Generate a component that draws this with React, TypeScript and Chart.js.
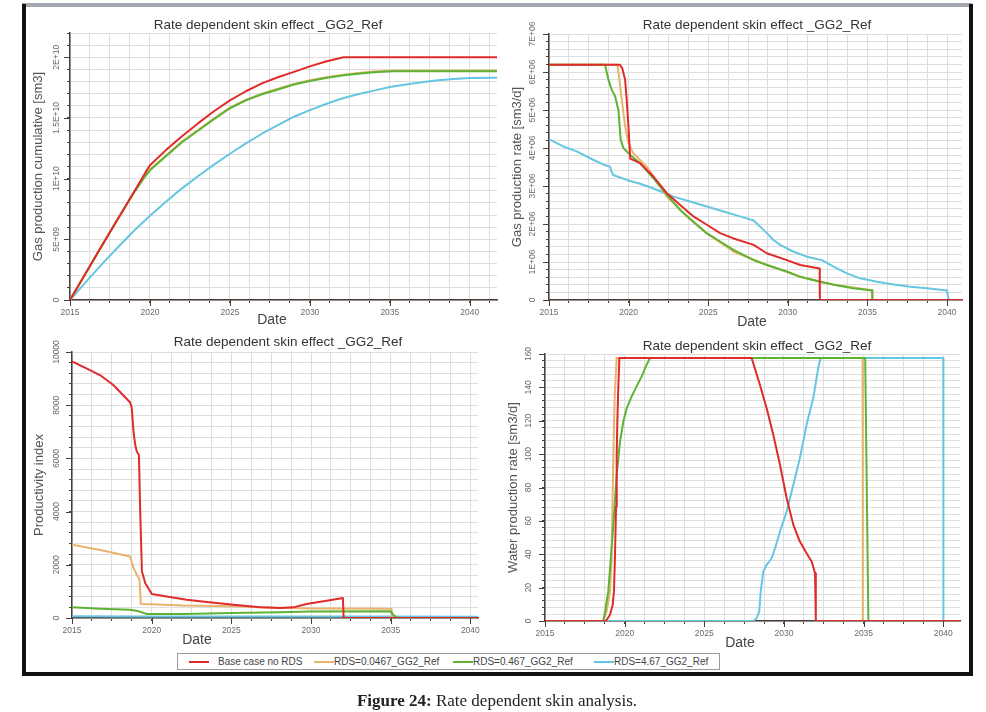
import React, { useEffect, useRef } from 'react';
import { Chart, registerables } from 'chart.js';

Chart.register(...registerables);

type Pt = [number, number];

// ---------- shared labels ----------
const seriesNames = ['Base case no RDS', 'RDS=0.0467_GG2_Ref', 'RDS=0.467_GG2_Ref', 'RDS=4.67_GG2_Ref'];
const seriesColors = ['#e02b2b', '#e8b46c', '#5eb334', '#66c6e2'];
const seriesOrder = [0, 2, 1, 3];
const panelTitle = 'Rate dependent skin effect _GG2_Ref';
const xAxisTitle = 'Date';
const yearTickValues = [2015, 2020, 2025, 2030, 2035, 2040];
const yearTickLabels = ['2015', '2020', '2025', '2030', '2035', '2040'];

// ---------- panel 1: gas production cumulative ----------
const cumTickValues = [0, 5e9, 1e10, 1.5e10, 2e10];
const cumTickLabels = ['0', '5E+09', '1E+10', '1.5E+10', '2E+10'];
const cumBase: Pt[] = [[2015, 0], [2016, 2.25e9], [2017, 4.5e9], [2018, 6.7e9], [2019, 8.9e9], [2019.8, 1.07e10], [2020, 1.11e10], [2021, 1.235e10], [2022, 1.35e10], [2023, 1.455e10], [2024, 1.555e10], [2025, 1.645e10], [2026, 1.72e10], [2027, 1.785e10], [2028, 1.835e10], [2029, 1.88e10], [2030, 1.925e10], [2031, 1.965e10], [2032.1, 2.0e10], [2041.7, 2.0e10]];
const cumLow: Pt[] = [[2015, 0], [2016, 2.25e9], [2017, 4.5e9], [2018, 6.7e9], [2019, 8.88e9], [2019.6, 1.01e10], [2020, 1.075e10], [2021, 1.19e10], [2022, 1.305e10], [2023, 1.4e10], [2024, 1.495e10], [2025, 1.585e10], [2026, 1.65e10], [2027, 1.7e10], [2028, 1.74e10], [2029, 1.78e10], [2030, 1.81e10], [2031, 1.835e10], [2032, 1.855e10], [2033, 1.87e10], [2034, 1.882e10], [2035.2, 1.89e10], [2041.7, 1.89e10]];
const cumMid: Pt[] = [[2015, 0], [2016, 2.25e9], [2017, 4.5e9], [2018, 6.7e9], [2019, 8.85e9], [2019.6, 1.0e10], [2020, 1.07e10], [2021, 1.185e10], [2022, 1.3e10], [2023, 1.395e10], [2024, 1.49e10], [2025, 1.58e10], [2026, 1.645e10], [2027, 1.695e10], [2028, 1.735e10], [2029, 1.775e10], [2030, 1.805e10], [2031, 1.83e10], [2032, 1.85e10], [2033, 1.865e10], [2034, 1.877e10], [2035.2, 1.885e10], [2041.7, 1.885e10]];
const cumHigh: Pt[] = [[2015, 0], [2016, 1.5e9], [2017, 2.95e9], [2018, 4.35e9], [2019, 5.7e9], [2020, 6.95e9], [2021, 8.1e9], [2022, 9.2e9], [2023, 1.02e10], [2024, 1.115e10], [2025, 1.205e10], [2026, 1.29e10], [2027, 1.37e10], [2028, 1.44e10], [2029, 1.51e10], [2030, 1.565e10], [2031, 1.615e10], [2032, 1.66e10], [2033, 1.695e10], [2034, 1.725e10], [2035, 1.755e10], [2036, 1.775e10], [2037, 1.795e10], [2038, 1.81e10], [2039, 1.82e10], [2040, 1.83e10], [2041.7, 1.832e10]];

// ---------- panel 2: gas production rate ----------
const rateTickValues = [0, 1e6, 2e6, 3e6, 4e6, 5e6, 6e6, 7e6];
const rateTickLabels = ['0', '1E+06', '2E+06', '3E+06', '4E+06', '5E+06', '6E+06', '7E+06'];
const rateBase: Pt[] = [[2015, 6.19e6], [2019.46, 6.19e6], [2019.6, 6.1e6], [2019.78, 5.8e6], [2019.88, 5.27e6], [2019.99, 4.57e6], [2020.1, 3.72e6], [2020.72, 3.6e6], [2021.56, 3.25e6], [2022.4, 2.81e6], [2023.24, 2.5e6], [2024.07, 2.2e6], [2024.91, 1.98e6], [2025.75, 1.76e6], [2026.59, 1.62e6], [2027.85, 1.45e6], [2028.68, 1.23e6], [2029.94, 1.05e6], [2030.78, 0.92e6], [2032.0, 0.83e6], [2032.01, 0], [2040.94, 0]];
const rateLow: Pt[] = [[2015, 6.19e6], [2019.3, 6.19e6], [2019.36, 6.0e6], [2019.57, 5.27e6], [2019.78, 4.57e6], [2019.99, 4.13e6], [2020.3, 3.86e6], [2021.14, 3.51e6], [2022.4, 2.72e6], [2023.65, 2.2e6], [2024.9, 1.76e6], [2026.6, 1.27e6], [2028.7, 0.92e6], [2030.8, 0.61e6], [2032.9, 0.4e6], [2035.3, 0.26e6], [2035.31, 0], [2040.94, 0]];
const rateMid: Pt[] = [[2015, 6.19e6], [2018.52, 6.19e6], [2018.73, 5.8e6], [2018.94, 5.53e6], [2019.15, 5.36e6], [2019.36, 5.0e6], [2019.5, 4.22e6], [2019.67, 4.0e6], [2020.09, 3.82e6], [2020.72, 3.6e6], [2021.56, 3.2e6], [2022.4, 2.77e6], [2023.24, 2.37e6], [2024.07, 2.06e6], [2024.9, 1.76e6], [2025.75, 1.54e6], [2026.59, 1.32e6], [2027.85, 1.05e6], [2028.68, 0.92e6], [2029.94, 0.75e6], [2030.78, 0.61e6], [2032, 0.48e6], [2032.9, 0.4e6], [2034.1, 0.31e6], [2035.3, 0.25e6], [2035.31, 0], [2040.94, 0]];
const rateHigh: Pt[] = [[2015, 4.23e6], [2015.3, 4.17e6], [2015.9, 4.04e6], [2016.74, 3.91e6], [2017.58, 3.73e6], [2018.42, 3.56e6], [2018.84, 3.51e6], [2018.9, 3.4e6], [2019.04, 3.29e6], [2019.88, 3.16e6], [2020.72, 3.06e6], [2021.77, 2.9e6], [2022.82, 2.72e6], [2023.86, 2.59e6], [2024.91, 2.46e6], [2025.96, 2.33e6], [2027.0, 2.2e6], [2027.85, 2.09e6], [2028.27, 1.93e6], [2028.68, 1.76e6], [2029.1, 1.58e6], [2029.52, 1.45e6], [2030.36, 1.27e6], [2031.2, 1.14e6], [2032.14, 1.05e6], [2032.87, 0.88e6], [2033.71, 0.7e6], [2034.55, 0.57e6], [2035.6, 0.48e6], [2036.65, 0.41e6], [2037.7, 0.35e6], [2038.74, 0.31e6], [2040.0, 0.25e6], [2040.1, 0], [2040.94, 0]];

// ---------- panel 3: productivity index ----------
const piTickValues = [0, 2000, 4000, 6000, 8000, 10000];
const piTickLabels = ['0', '2000', '4000', '6000', '8000', '10000'];
const piBase: Pt[] = [[2015, 9650], [2015.94, 9375], [2016.78, 9125], [2017.61, 8750], [2018.65, 8100], [2018.75, 7900], [2018.86, 7000], [2018.97, 6500], [2019.07, 6250], [2019.2, 6125], [2019.28, 4000], [2019.39, 1750], [2019.6, 1310], [2020.01, 900], [2020.95, 810], [2022.2, 690], [2023.46, 600], [2025.13, 500], [2026.8, 400], [2028.05, 375], [2028.9, 400], [2029.72, 525], [2030.98, 650], [2032.0, 750], [2032.05, 0], [2040.48, 0]];
const piLow: Pt[] = [[2015, 2750], [2016.78, 2560], [2018.65, 2310], [2018.86, 1875], [2019.07, 1625], [2019.24, 1440], [2019.32, 530], [2020, 520], [2022, 470], [2025, 440], [2028, 390], [2030, 360], [2035.05, 350], [2035.1, 0], [2040.48, 0]];
const piMid: Pt[] = [[2015, 400], [2016.78, 350], [2018.65, 310], [2019.2, 250], [2019.7, 150], [2022, 150], [2025, 190], [2028, 215], [2030, 240], [2035, 250], [2035.15, 125], [2035.4, 0], [2040.48, 0]];
const piHigh: Pt[] = [[2015, 70], [2019.5, 60], [2025, 60], [2030, 55], [2035, 55], [2040, 50], [2040.48, 50]];

// ---------- panel 4: water production rate ----------
const watTickValues = [0, 20, 40, 60, 80, 100, 120, 140, 160];
const watTickLabels = ['0', '20', '40', '60', '80', '100', '120', '140', '160'];
const watBase: Pt[] = [[2015, 0], [2018.77, 0], [2018.87, 0.6], [2019.08, 3.7], [2019.25, 9.7], [2019.33, 17.9], [2019.39, 38], [2019.46, 68.6], [2019.5, 99], [2019.54, 119], [2019.6, 140], [2019.67, 157.6], [2027.97, 157.6], [2028.49, 141.6], [2028.91, 127.6], [2029.33, 111.6], [2029.75, 93.6], [2030.17, 73.6], [2030.59, 57.6], [2031.0, 47.6], [2031.42, 40.6], [2031.74, 35.6], [2031.95, 28.6], [2032.0, 0], [2041.05, 0]];
const watLow: Pt[] = [[2015, 0], [2018.66, 0], [2018.87, 5.6], [2019.08, 17.6], [2019.18, 37.6], [2019.25, 77.6], [2019.33, 117.6], [2019.39, 137.6], [2019.5, 157.6], [2034.94, 157.6], [2034.95, 0], [2041.05, 0]];
const watMid: Pt[] = [[2015, 0], [2018.66, 0], [2018.77, 5.6], [2018.97, 17.6], [2019.29, 57.6], [2019.5, 87.6], [2019.71, 107.6], [2019.92, 119.6], [2020.13, 127.6], [2020.44, 134.6], [2020.75, 140.6], [2021.07, 146.6], [2021.38, 153.6], [2021.59, 157.6], [2035.1, 157.6], [2035.3, 0], [2041.05, 0]];
const watHigh: Pt[] = [[2015, 0], [2028.08, 0], [2028.28, 1.6], [2028.45, 5.6], [2028.54, 17.6], [2028.7, 29.6], [2028.91, 33.6], [2029.23, 37.6], [2029.44, 43.6], [2029.75, 53.6], [2030.17, 65.6], [2030.59, 81.6], [2031.0, 97.6], [2031.42, 117.6], [2031.84, 133.6], [2032.15, 151.6], [2032.3, 157.6], [2040.0, 157.6], [2040.01, 0], [2041.05, 0]];

// ---------- layout / style ----------
const PAGE_W = 986;
const PAGE_H = 712;
const Y_W = 4;
const X_H = 18;
const FONT = '"Liberation Sans", Arial, sans-serif';
const AXIS = '#4a3f38';
const GRID = '#dedede';

interface Panel {
  area: { l: number; t: number; r: number; b: number };
  xMax: number;
  yMax: number;
  yStep: number;
  yTickValues: number[];
  yTickLabels: string[];
  yTitle: string;
  series: Pt[][];
  titleX: number;
  titleY: number;
  yTitleX: number;
  xTitleX: number;
  xTitleY: number;
  yLabelGap: number;
}

const panels: Panel[] = [
  {
    area: { l: 70, t: 33, r: 497, b: 300 }, xMax: 2041.7, yMax: 2.2e10, yStep: 1e9,
    yTickValues: cumTickValues, yTickLabels: cumTickLabels, yTitle: 'Gas production cumulative [sm3]',
    series: [cumBase, cumLow, cumMid, cumHigh],
    titleX: 268, titleY: 25, yTitleX: 38, xTitleX: 272, xTitleY: 320, yLabelGap: 13,
  },
  {
    area: { l: 549, t: 34, r: 962, b: 300 }, xMax: 2040.94, yMax: 7e6, yStep: 2e5,
    yTickValues: rateTickValues, yTickLabels: rateTickLabels, yTitle: 'Gas production rate [sm3/d]',
    series: [rateBase, rateLow, rateMid, rateHigh],
    titleX: 757, titleY: 25, yTitleX: 517, xTitleX: 752, xTitleY: 322, yLabelGap: 16,
  },
  {
    area: { l: 72, t: 352, r: 478, b: 618 }, xMax: 2040.48, yMax: 10000, yStep: 400,
    yTickValues: piTickValues, yTickLabels: piTickLabels, yTitle: 'Productivity index',
    series: [piBase, piLow, piMid, piHigh],
    titleX: 288, titleY: 342, yTitleX: 39, xTitleX: 197, xTitleY: 640, yLabelGap: 15,
  },
  {
    area: { l: 545, t: 354, r: 960, b: 621 }, xMax: 2041.05, yMax: 160, yStep: 4,
    yTickValues: watTickValues, yTickLabels: watTickLabels, yTitle: 'Water production rate [sm3/d]',
    series: [watBase, watLow, watMid, watHigh],
    titleX: 757, titleY: 346, yTitleX: 513, xTitleX: 740, xTitleY: 643, yLabelGap: 16,
  },
];

const panelTextPlugin = {
  id: 'panelText',
  afterDraw(chart: any, _args: any, o: any) {
    const ctx: CanvasRenderingContext2D = chart.ctx;
    const { left, top, bottom } = chart.chartArea;
    const ys = chart.scales.y;
    const xs = chart.scales.x;
    ctx.save();
    // longer major tick marks
    ctx.strokeStyle = AXIS;
    ctx.lineWidth = 1;
    o.yTickValues.forEach((v: number) => {
      const py = Math.round(ys.getPixelForValue(v)) + 0.5;
      ctx.beginPath();
      ctx.moveTo(left - 6, py);
      ctx.lineTo(left, py);
      ctx.stroke();
    });
    yearTickValues.forEach((v) => {
      if (v > xs.max) return;
      const px = Math.round(xs.getPixelForValue(v)) + 0.5;
      ctx.beginPath();
      ctx.moveTo(px, bottom);
      ctx.lineTo(px, bottom + 6);
      ctx.stroke();
    });
    // y tick labels (rotated)
    ctx.fillStyle = '#6a6a6a';
    ctx.font = `8.5px ${FONT}`;
    ctx.textAlign = 'center';
    ctx.textBaseline = 'middle';
    o.yTickValues.forEach((v: number, i: number) => {
      const py = ys.getPixelForValue(v);
      ctx.save();
      ctx.translate(left - o.yLabelGap, py);
      ctx.rotate(-Math.PI / 2);
      ctx.fillText(o.yTickLabels[i], 0, 0);
      ctx.restore();
    });
    // panel title
    ctx.fillStyle = '#333';
    ctx.font = `13.5px ${FONT}`;
    ctx.fillText(o.title, o.titleX, o.titleY);
    // y axis title
    ctx.save();
    ctx.translate(o.yTitleX, (top + bottom) / 2);
    ctx.rotate(-Math.PI / 2);
    ctx.fillStyle = '#555';
    ctx.font = `13px ${FONT}`;
    ctx.fillText(o.yTitle, 0, 0);
    ctx.restore();
    // x axis title
    ctx.fillStyle = '#444';
    ctx.font = `14px ${FONT}`;
    ctx.fillText(o.xTitle, o.xTitleX, o.xTitleY);
    ctx.restore();
  },
};

function makeConfig(p: Panel): any {
  const { l, t, r, b } = p.area;
  return {
    type: 'line',
    data: {
      datasets: p.series.map((s, i) => ({
        label: seriesNames[i],
        data: s.map(([x, y]) => ({ x, y })),
        borderColor: seriesColors[i],
        backgroundColor: seriesColors[i],
        borderWidth: 2,
        pointRadius: 0,
        tension: 0,
        fill: false,
        borderJoinStyle: 'round',
        order: seriesOrder[i],
      })),
    },
    options: {
      animation: false,
      responsive: false,
      events: [],
      layout: { padding: { left: l - Y_W, top: t, right: PAGE_W - r, bottom: PAGE_H - b - X_H } },
      plugins: {
        legend: { display: false },
        title: { display: false },
        tooltip: { enabled: false },
        panelText: {
          title: panelTitle,
          titleX: p.titleX,
          titleY: p.titleY,
          yTitle: p.yTitle,
          yTitleX: p.yTitleX,
          xTitle: xAxisTitle,
          xTitleX: p.xTitleX,
          xTitleY: p.xTitleY,
          yTickValues: p.yTickValues,
          yTickLabels: p.yTickLabels,
          yLabelGap: p.yLabelGap,
        },
      },
      scales: {
        x: {
          type: 'linear',
          min: 2015,
          max: p.xMax,
          afterFit: (s: any) => { s.height = X_H; },
          border: { display: true, color: AXIS, width: 1.5 },
          grid: { color: GRID, lineWidth: 1, tickLength: 3, tickColor: AXIS, drawTicks: true },
          ticks: {
            stepSize: 1.25,
            autoSkip: false,
            includeBounds: false,
            maxRotation: 0,
            minRotation: 0,
            padding: 5,
            color: '#6a6a6a',
            font: { family: FONT, size: 8.5 },
            callback: (v: number) => {
              const i = yearTickValues.indexOf(v);
              return i >= 0 ? yearTickLabels[i] : '';
            },
          },
        },
        y: {
          type: 'linear',
          min: 0,
          max: p.yMax,
          afterFit: (s: any) => { s.width = Y_W; },
          border: { display: true, color: AXIS, width: 1.5 },
          grid: { color: GRID, lineWidth: 1, tickLength: 3, tickColor: AXIS, drawTicks: true },
          ticks: { stepSize: p.yStep, display: false, autoSkip: false, includeBounds: false },
        },
      },
    },
    plugins: [panelTextPlugin],
  };
}

const legendSlots = [
  { swatch: 11, text: 40 },
  { swatch: 136, text: 156 },
  { swatch: 275, text: 295 },
  { swatch: 416, text: 436 },
];

export default function App() {
  const canvases = useRef<(HTMLCanvasElement | null)[]>([]);

  useEffect(() => {
    const charts = panels.map((p, i) => new Chart(canvases.current[i] as HTMLCanvasElement, makeConfig(p)));
    return () => charts.forEach((c) => c.destroy());
  }, []);

  return (
    <div style={{ position: 'absolute', left: 0, top: 0, width: PAGE_W, height: PAGE_H, background: '#fff', overflow: 'hidden' }}>
      {panels.map((_, i) => (
        <canvas
          key={i}
          ref={(el) => { canvases.current[i] = el; }}
          width={PAGE_W}
          height={PAGE_H}
          style={{ position: 'absolute', left: 0, top: 0, width: PAGE_W, height: PAGE_H }}
        />
      ))}
      {/* frame */}
      <div style={{ position: 'absolute', left: 22, top: 3, width: 950, height: 4, background: '#a4a8b1' }} />
      <div style={{ position: 'absolute', left: 22, top: 4, width: 4, height: 672, background: '#111' }} />
      <div style={{ position: 'absolute', left: 969, top: 4, width: 4, height: 672, background: '#111' }} />
      <div style={{ position: 'absolute', left: 22, top: 672, width: 951, height: 4, background: '#111' }} />
      {/* legend */}
      <div style={{ position: 'absolute', left: 177, top: 653, width: 543, height: 17, boxSizing: 'border-box', border: '1px solid #9a9a9a', background: '#fff', fontFamily: FONT, fontSize: 10, color: '#444' }}>
        {seriesNames.map((name, i) => (
          <React.Fragment key={name}>
            <div style={{ position: 'absolute', left: legendSlots[i].swatch, top: 7, width: 20, height: 2, background: seriesColors[i] }} />
            <div style={{ position: 'absolute', left: legendSlots[i].text, top: 1, lineHeight: '13px', whiteSpace: 'nowrap' }}>{name}</div>
          </React.Fragment>
        ))}
      </div>
      {/* caption */}
      <div style={{ position: 'absolute', left: 0, top: 691, width: PAGE_W, textAlign: 'center', fontFamily: '"Liberation Serif", "DejaVu Serif", serif', fontSize: 17, color: '#222', paddingLeft: 8, boxSizing: 'border-box' }}>
        <b>Figure 24:</b> Rate dependent skin analysis.
      </div>
    </div>
  );
}
